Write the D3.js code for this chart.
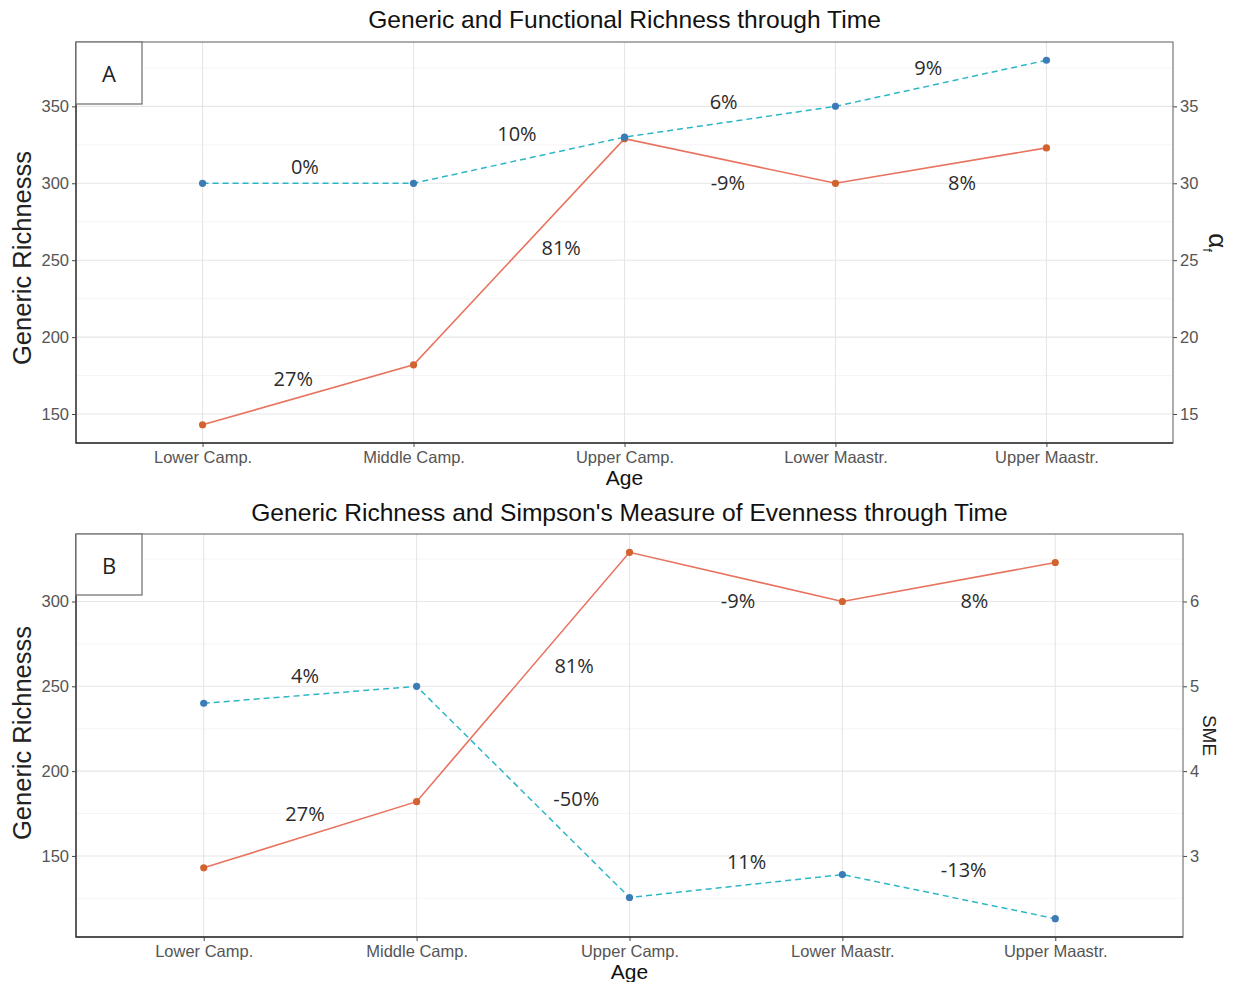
<!DOCTYPE html>
<html><head><meta charset="utf-8">
<script src="https://cdn.jsdelivr.net/npm/d3@7"></script>
<style>
body{margin:0;background:#fff;}
svg{display:block;}
.tick text{font-family:"Liberation Sans",Arial,sans-serif;}
</style>
</head><body>
<svg id="chart" width="1239" height="982"></svg>
<script>
// ---------- data ----------
const ages = ["Lower Camp.","Middle Camp.","Upper Camp.","Lower Maastr.","Upper Maastr."];
const richness = [143, 182, 329, 300, 323];
const alphaF = [30, 30, 33, 35, 38];
const sme = [4.8, 5.0, 2.51, 2.78, 2.26];
const richTicksA = [150, 200, 250, 300, 350];
const richTicksB = [150, 200, 250, 300];
const alphaTicks = [15, 20, 25, 30, 35];
const smeTicks = [3, 4, 5, 6];
// change labels: text, position (fractional category index, left-axis value)
const labelsA_text = ["0%","10%","6%","9%","27%","81%","-9%","8%"];
const labelsA_idx  = [0.485, 1.49, 2.47, 3.44, 0.43, 1.70, 2.49, 3.60];
const labelsA_val  = [311, 332.5, 353, 375, 173.3, 258, 300.2, 300.2];
const labelsB_text = ["4%","-50%","11%","-13%","27%","81%","-9%","8%"];
const labelsB_idx  = [0.476, 1.75, 2.55, 3.57, 0.476, 1.74, 2.51, 3.62];
const labelsB_val  = [256.5, 184, 146.5, 141.8, 175.3, 262, 300.6, 300.6];

const svg = d3.select("#chart");
const redLine = "#e8735f", redPt = "#d2622e", blueLine = "#2db7c6", bluePt = "#3b7cb7";

function panel(cfg) {
  const {left, right, top, bottom} = cfg;
  const g = svg.append("g");
  const x = d3.scalePoint().domain(ages).range([left, right]).padding(0.6);
  const all = richness.concat(cfg.sec.map(v => v * cfg.k));
  const lo = d3.min(all), hi = d3.max(all), ex = (hi - lo) * 0.05;
  const y = d3.scaleLinear().domain([lo - ex, hi + ex]).range([bottom, top]);
  const y2 = d3.scaleLinear().domain([(lo - ex) / cfg.k, (hi + ex) / cfg.k]).range([bottom, top]);

  // grid: minor
  const minor = cfg.ticks.map(t => t - 25).concat(cfg.ticks.map(t => t + 25))
    .filter((v, i, a) => a.indexOf(v) === i && v > y.domain()[0] && v < y.domain()[1]);
  g.selectAll(".minor").data(minor).join("line")
    .attr("x1", left).attr("x2", right)
    .attr("y1", d => y(d)).attr("y2", d => y(d))
    .attr("stroke", "#f2f2f2").attr("stroke-width", 0.8);
  g.selectAll(".major").data(cfg.ticks).join("line")
    .attr("x1", left).attr("x2", right)
    .attr("y1", d => y(d)).attr("y2", d => y(d))
    .attr("stroke", "#e6e6e6").attr("stroke-width", 1.1);
  g.selectAll(".vmajor").data(ages).join("line")
    .attr("x1", d => x(d)).attr("x2", d => x(d))
    .attr("y1", top).attr("y2", bottom)
    .attr("stroke", "#e6e6e6").attr("stroke-width", 1.1);

  // axes
  const styleAxis = (a) => {
    a.select(".domain").remove();
    a.selectAll(".tick line").attr("stroke", "#444");
    a.selectAll(".tick text").attr("fill", "#555").attr("font-size", "16.5px");
  };
  g.append("g").attr("transform", `translate(${left},0)`)
    .call(d3.axisLeft(y).tickValues(cfg.ticks).tickSize(4).tickPadding(3)).call(styleAxis);
  g.append("g").attr("transform", `translate(${right},0)`)
    .call(d3.axisRight(y2).tickValues(cfg.secTicks).tickFormat(d3.format("d")).tickSize(4).tickPadding(3)).call(styleAxis);
  g.append("g").attr("transform", `translate(0,${bottom})`)
    .call(d3.axisBottom(x).tickSize(4).tickPadding(4)).call(styleAxis);

  // border
  g.append("rect").attr("x", left).attr("y", top).attr("width", right - left).attr("height", bottom - top)
    .attr("fill", "none").attr("stroke", "#777").attr("stroke-width", 1.2);
  g.append("path").attr("d", `M${left},${top}V${bottom}H${right}`)
    .attr("fill", "none").attr("stroke", "#333").attr("stroke-width", 1.3);

  // lines
  const lineR = d3.line().x((d, i) => x(ages[i])).y(d => y(d));
  const lineB = d3.line().x((d, i) => x(ages[i])).y(d => y2(d));
  g.append("path").datum(cfg.sec).attr("d", lineB).attr("fill", "none")
    .attr("stroke", blueLine).attr("stroke-width", 1.5).attr("stroke-dasharray", "6,4");
  g.append("path").datum(richness).attr("d", lineR).attr("fill", "none")
    .attr("stroke", redLine).attr("stroke-width", 1.6);
  g.selectAll(".pr").data(richness).join("circle")
    .attr("cx", (d, i) => x(ages[i])).attr("cy", d => y(d)).attr("r", 3.6).attr("fill", redPt);
  g.selectAll(".pb").data(cfg.sec).join("circle")
    .attr("cx", (d, i) => x(ages[i])).attr("cy", d => y2(d)).attr("r", 3.6).attr("fill", bluePt);

  // change labels
  const step = x.step();
  g.selectAll(".lab").data(cfg.labText).join("text")
    .attr("x", (d, i) => x(ages[0]) + cfg.labIdx[i] * step)
    .attr("y", (d, i) => y(cfg.labVal[i]))
    .attr("text-anchor", "middle").attr("dominant-baseline", "central")
    .attr("font-family", "'Open Sans', sans-serif").attr("font-size", "20px").attr("fill", "#2b2b2b")
    .text(d => d);

  // panel tag box
  const bw = 66, bh = cfg.tagH;
  g.append("rect").attr("x", left).attr("y", top).attr("width", bw).attr("height", bh)
    .attr("fill", "#fff").attr("stroke", "#777").attr("stroke-width", 1.3);
  g.append("text").attr("x", left + bw / 2).attr("y", top + bh / 2)
    .attr("text-anchor", "middle").attr("dominant-baseline", "central")
    .attr("font-family", "'Open Sans', sans-serif").attr("font-size", "22px").attr("fill", "#222")
    .text(cfg.tag);

  // titles
  svg.append("text").attr("x", (left + right) / 2).attr("y", cfg.titleY)
    .attr("text-anchor", "middle").attr("font-family", "'Liberation Sans', Arial, sans-serif")
    .attr("font-size", "24.6px").attr("fill", "#111").text(cfg.title);
  svg.append("text").attr("x", (left + right) / 2).attr("y", bottom + 42)
    .attr("text-anchor", "middle").attr("font-family", "'Liberation Sans', Arial, sans-serif")
    .attr("font-size", "21px").attr("fill", "#111").text("Age");
  svg.append("text").attr("transform", `translate(31,${cfg.yTitleC}) rotate(-90)`)
    .attr("text-anchor", "middle").attr("font-family", "'Liberation Sans', Arial, sans-serif")
    .attr("font-size", "25.5px").attr("fill", "#222").text("Generic Richnesss");
  const rt = svg.append("text").attr("transform", `translate(${right + cfg.rOff},${(top + bottom) / 2}) rotate(90)`)
    .attr("text-anchor", "middle").attr("font-family", "'Liberation Sans', Arial, sans-serif")
    .attr("font-size", cfg.rSize).attr("fill", "#222");
  if (cfg.rSub) {
    rt.append("tspan").text(cfg.rLabel);
    rt.append("tspan").attr("font-size", "13px").attr("dy", 6).text(cfg.rSub);
  } else rt.text(cfg.rLabel);
}

panel({left: 76, right: 1173, top: 42, bottom: 443, sec: alphaF, k: 10,
  ticks: richTicksA, secTicks: alphaTicks, labText: labelsA_text, labIdx: labelsA_idx, labVal: labelsA_val,
  tag: "A", tagH: 62, title: "Generic and Functional Richness through Time", titleY: 28,
  yTitleC: 258, rOff: 36, rLabel: "α", rSub: "f", rSize: "26px"});
panel({left: 76, right: 1183, top: 534, bottom: 937, sec: sme, k: 50,
  ticks: richTicksB, secTicks: smeTicks, labText: labelsB_text, labIdx: labelsB_idx, labVal: labelsB_val,
  tag: "B", tagH: 61, title: "Generic Richness and Simpson's Measure of Evenness through Time", titleY: 521,
  yTitleC: 733, rOff: 20, rLabel: "SME", rSub: null, rSize: "19px"});
</script>
</body></html>
